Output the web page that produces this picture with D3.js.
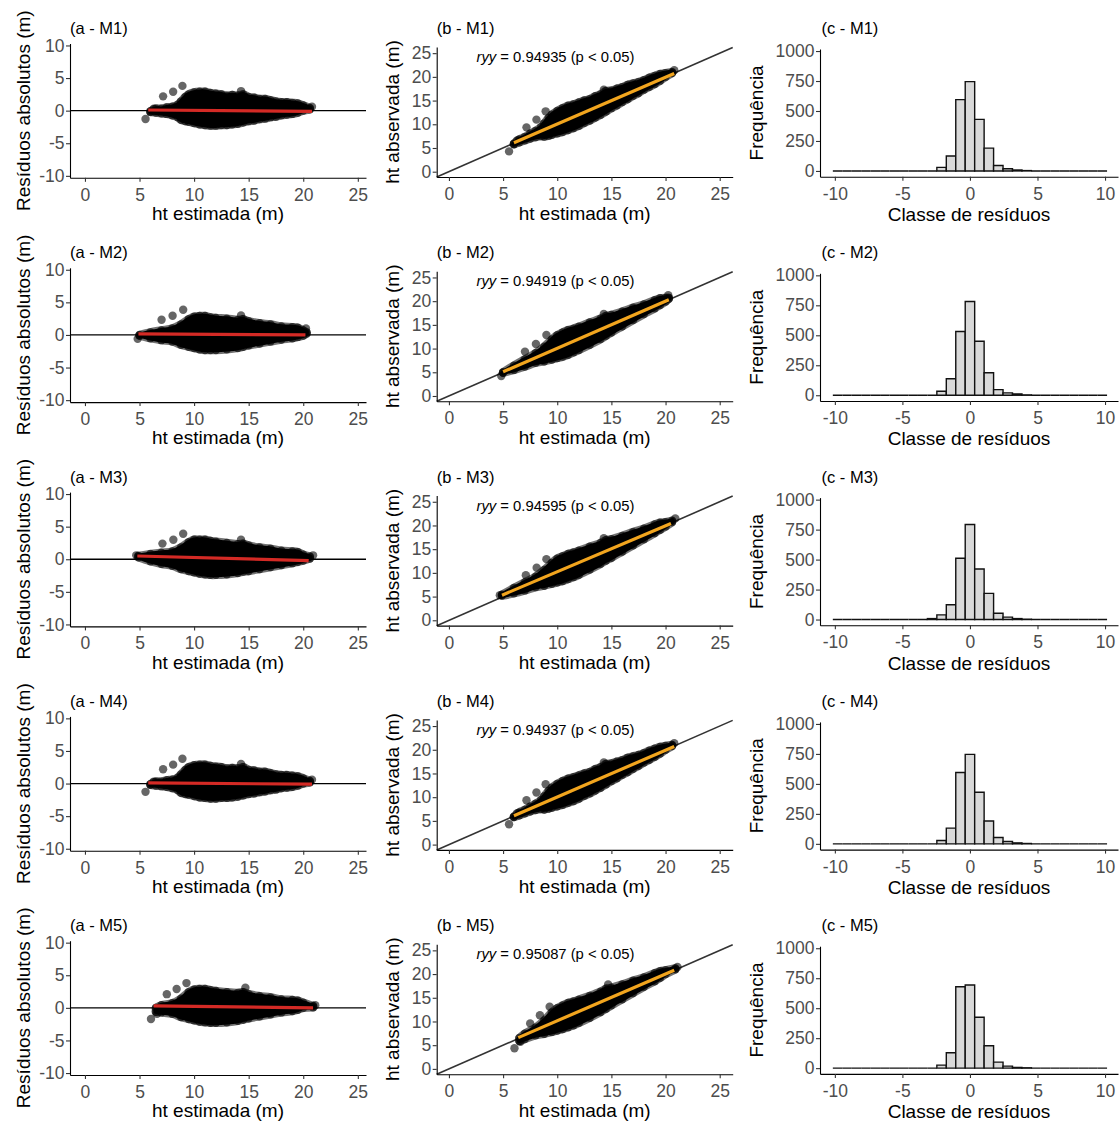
<!DOCTYPE html>
<html><head><meta charset="utf-8">
<script src="https://cdn.jsdelivr.net/npm/d3@7"></script>
<style>body{margin:0;background:#fff}svg{display:block}text{font-family:"Liberation Sans",Arial,sans-serif}</style>
</head><body><svg id="c" width="1120" height="1122"></svg>
<script>
// ---------------- DATA ----------------
const models = ["M1", "M2", "M3", "M4", "M5"];
const ryyValues = ["0.94935", "0.94919", "0.94595", "0.94937", "0.95087"];

const resXTicks = [0, 5, 10, 15, 20, 25];
const resYTicks = [-10, -5, 0, 5, 10];
const obsXTicks = [0, 5, 10, 15, 20, 25];
const obsYTicks = [0, 5, 10, 15, 20, 25];
const histXTicks = [-10, -5, 0, 5, 10];
const histYTicks = [0, 250, 500, 750, 1000];

// residual cloud envelopes (centres of outermost points): estimated ht, upper residual, lower residual
const cloudHtM1 = [6.0, 6.5, 7, 7.5, 8, 8.5, 8.8, 9.2, 9.5, 10, 10.5, 11, 11.5, 12, 12.5, 13, 13.5, 14, 14.5, 15, 15.5, 16, 16.5, 17, 17.5, 18, 18.5, 19, 19.5, 20, 20.6];
const resUpperM1 = [-0.1, 0.3, 0.3, 0.5, 0.6, 0.9, 1.4, 2.1, 2.5, 2.8, 2.9, 2.9, 2.7, 2.6, 2.5, 2.3, 2.4, 2.3, 2.5, 2.1, 2.0, 1.8, 1.8, 1.6, 1.4, 1.3, 1.3, 1.2, 1.1, 0.8, 0.4];
const resLowerM1 = [-0.2, -0.3, -0.4, -0.5, -0.7, -1.0, -1.4, -1.6, -1.7, -1.9, -2.1, -2.2, -2.3, -2.3, -2.2, -2.2, -2.1, -2.0, -1.8, -1.6, -1.5, -1.3, -1.2, -1.0, -0.9, -0.7, -0.6, -0.5, -0.3, 0.0, 0.2];
const outliersM1 = [[5.55, -1.27], [7.16, 2.19], [8.08, 2.9], [8.93, 3.8], [14.3, 3.0], [20.8, 0.6], [6.3, 0.3]];

const cloudHtM2 = [5.0, 6, 7, 8, 8.8, 9.5, 10, 10.5, 11, 11.5, 12, 13, 14, 14.5, 15, 16, 17, 18, 19, 19.5, 20, 20.3];
const resUpperM2 = [0.0, 0.4, 0.7, 1.0, 1.6, 2.4, 2.8, 2.9, 2.9, 2.7, 2.6, 2.5, 2.3, 2.4, 2.1, 1.8, 1.6, 1.3, 1.2, 1.1, 0.7, 0.4];
const resLowerM2 = [-0.1, -0.5, -0.8, -1.0, -1.5, -1.8, -2.0, -2.2, -2.3, -2.3, -2.3, -2.2, -2.0, -1.8, -1.6, -1.3, -1.0, -0.7, -0.5, -0.3, -0.1, 0.2];
const outliersM2 = [[4.83, -0.6], [7.02, 2.34], [8.03, 2.95], [9.0, 3.87], [14.3, 3.0], [20.25, 1.0]];

const cloudHtM3 = [4.9, 6, 7, 8, 8.8, 9.5, 10, 10.5, 11, 11.5, 12, 13, 14, 14.5, 15, 16, 17, 18, 19, 19.5, 20, 20.6];
const resUpperM3 = [0.5, 0.8, 1.0, 1.2, 1.8, 2.6, 3.0, 3.0, 3.0, 2.8, 2.7, 2.5, 2.3, 2.4, 2.1, 1.8, 1.6, 1.3, 1.2, 1.1, 0.7, 0.4];
const resLowerM3 = [0.3, -0.3, -0.7, -1.0, -1.5, -1.8, -2.0, -2.2, -2.3, -2.4, -2.4, -2.3, -2.1, -1.9, -1.8, -1.5, -1.2, -0.9, -0.6, -0.4, -0.2, 0.1];
const outliersM3 = [[4.7, 0.6], [7.1, 2.4], [8.1, 3.0], [9.0, 3.9], [14.3, 3.0], [20.9, 0.6]];

const cloudHtM4 = [6.0, 6.5, 7, 7.5, 8, 8.5, 8.8, 9.2, 9.5, 10, 10.5, 11, 11.5, 12, 12.5, 13, 13.5, 14, 14.5, 15, 15.5, 16, 16.5, 17, 17.5, 18, 18.5, 19, 19.5, 20, 20.6];
const resUpperM4 = [-0.1, 0.3, 0.3, 0.5, 0.6, 0.9, 1.4, 2.1, 2.5, 2.8, 2.9, 2.9, 2.7, 2.6, 2.5, 2.3, 2.4, 2.3, 2.5, 2.1, 2.0, 1.8, 1.8, 1.6, 1.4, 1.3, 1.3, 1.2, 1.1, 0.8, 0.4];
const resLowerM4 = [-0.2, -0.3, -0.4, -0.5, -0.7, -1.0, -1.4, -1.6, -1.7, -1.9, -2.1, -2.2, -2.3, -2.3, -2.2, -2.2, -2.1, -2.0, -1.8, -1.6, -1.5, -1.3, -1.2, -1.0, -0.9, -0.7, -0.6, -0.5, -0.3, 0.0, 0.2];
const outliersM4 = [[5.55, -1.27], [7.16, 2.19], [8.08, 2.9], [8.93, 3.8], [14.3, 3.0], [20.8, 0.6], [6.3, 0.3]];

const cloudHtM5 = [6.5, 7, 8, 8.8, 9.5, 10, 10.5, 11, 11.5, 12, 13, 14, 14.5, 15, 16, 17, 18, 19, 19.5, 20, 20.9];
const resUpperM5 = [0.0, 0.4, 0.7, 1.4, 2.4, 2.8, 2.9, 2.9, 2.7, 2.6, 2.4, 2.3, 2.4, 2.1, 1.8, 1.6, 1.3, 1.2, 1.1, 0.8, 0.3];
const resLowerM5 = [-0.6, -0.7, -0.9, -1.4, -1.7, -1.9, -2.1, -2.2, -2.3, -2.3, -2.2, -2.0, -1.8, -1.6, -1.3, -1.0, -0.7, -0.5, -0.3, 0.0, 0.1];
const outliersM5 = [[6.05, -1.7], [7.5, 2.1], [8.4, 2.9], [9.3, 3.8], [14.7, 3.1], [21.1, 0.4], [6.6, -0.9]];

// fitted lines: [x0, y0, x1, y1]
const redFits = [[5.8, 0.1, 20.8, -0.1], [4.9, 0.15, 20.2, 0.0], [4.8, 0.5, 20.5, -0.2], [5.8, 0.1, 20.8, -0.1], [6.3, 0.3, 20.9, 0.0]];
const orangeFits = [[6.0, 6.1, 20.8, 20.7], [5.0, 5.1, 20.3, 20.3], [4.9, 5.3, 20.5, 20.4], [6.0, 6.1, 20.8, 20.7], [6.4, 6.6, 20.8, 20.8]];

// histograms: 29 bins of width 0.7 centred on 0 (from -10.15 to 10.15)
const histBinStart = -10.15, histBinWidth = 0.7;
const histM1 = [0,0,0,0,0,0,0,0,0,0, 0,30,125,595,745,430,190,45,18,8, 3,0,0,0,0,0,0,0,0];
const histM2 = [0,0,0,0,0,0,0,0,0,0, 0,33,137,531,782,450,187,47,20,11, 3,0,0,0,0,0,0,0,0];
const histM3 = [0,0,0,0,0,0,0,0,0,0, 8,39,123,511,793,422,218,53,20,8, 3,0,0,0,0,0,0,0,0];
const histM4 = [0,0,0,0,0,0,0,0,0,0, 0,28,131,595,746,430,190,53,20,8, 3,0,0,0,0,0,0,0,0];
const histM5 = [0,0,0,0,0,0,0,0,0,0, 0,25,128,679,693,425,187,50,17,6, 3,0,0,0,0,0,0,0,0];

const cloudHt = [cloudHtM1, cloudHtM2, cloudHtM3, cloudHtM4, cloudHtM5];
const resUpper = [resUpperM1, resUpperM2, resUpperM3, resUpperM4, resUpperM5];
const resLower = [resLowerM1, resLowerM2, resLowerM3, resLowerM4, resLowerM5];
const outliers = [outliersM1, outliersM2, outliersM3, outliersM4, outliersM5];
const hists = [histM1, histM2, histM3, histM4, histM5];

// ---------------- DRAW ----------------
const svg = d3.select("#c");
const rowStep = 224.3;
const PR = 4.2; // point radius
const tickFont = "17.5px", titleFont = "19px", panelFont = "16.5px";
const fmt = d => String(d);

function styleAxis(g) {
  g.select(".domain").attr("stroke", "#000").attr("stroke-width", 1.1);
  g.selectAll(".tick line").attr("stroke", "#333").attr("stroke-width", 1.1);
  g.selectAll(".tick text").attr("fill", "#4d4d4d").style("font-size", tickFont)
    .style("font-family", '"Liberation Sans", Arial, sans-serif');
}
function axes(g, x, y, xt, yt) {
  const ax = g.append("g").attr("transform", `translate(0,${y.range()[0]})`)
    .call(d3.axisBottom(x).tickValues(xt).tickFormat(fmt).tickSize(4).tickSizeOuter(0).tickPadding(6.5));
  styleAxis(ax);
  const ay = g.append("g").attr("transform", `translate(${x.range()[0]},0)`)
    .call(d3.axisLeft(y).tickValues(yt).tickFormat(fmt).tickSize(4).tickSizeOuter(0).tickPadding(1.5));
  styleAxis(ay);
}
function cloud(g, x, y, hts, lo, up, pts) {
  const area = d3.area().x((d, i) => x(hts[i])).y0((d, i) => y(lo[i])).y1((d, i) => y(up[i])).curve(d3.curveCatmullRom);
  g.append("path").attr("d", area(hts)).attr("fill", "#000").attr("fill-opacity", 0.55)
    .attr("stroke", "#000").attr("stroke-opacity", 0.55).attr("stroke-width", PR * 2).attr("stroke-linejoin", "round");
  g.append("path").attr("d", area(hts)).attr("fill", "#000")
    .attr("stroke", "#000").attr("stroke-width", PR * 1.1).attr("stroke-linejoin", "round");
  g.selectAll(null).data(hts).enter().append("circle")
    .attr("cx", (d, i) => x(hts[i])).attr("cy", (d, i) => y(up[i])).attr("r", PR).attr("fill", "rgba(0,0,0,0.6)");
  g.selectAll(null).data(hts).enter().append("circle")
    .attr("cx", (d, i) => x(hts[i])).attr("cy", (d, i) => y(lo[i])).attr("r", PR).attr("fill", "rgba(0,0,0,0.6)");
  g.selectAll(null).data(pts).enter().append("circle")
    .attr("cx", d => x(d[0])).attr("cy", d => y(d[1])).attr("r", PR).attr("fill", "rgba(0,0,0,0.6)");
}

models.forEach((m, i) => {
  const off = i * rowStep;
  const row = svg.append("g").attr("transform", `translate(0,${off})`);

  // ---- panel a: residuals ----
  const xa = d3.scaleLinear().domain([-1.37, 25.75]).range([70, 366]);
  const ya = d3.scaleLinear().domain([-10.3, 10.3]).range([177.8, 43.5]);
  const ga = row.append("g");
  ga.append("line").attr("x1", xa.range()[0]).attr("x2", xa.range()[1]).attr("y1", ya(0)).attr("y2", ya(0))
    .attr("stroke", "#000").attr("stroke-width", 1.3);
  cloud(ga, xa, ya, cloudHt[i], resLower[i], resUpper[i], outliers[i]);
  const rf = redFits[i];
  ga.append("line").attr("x1", xa(rf[0])).attr("y1", ya(rf[1])).attr("x2", xa(rf[2])).attr("y2", ya(rf[3]))
    .attr("stroke", "#d42a25").attr("stroke-width", 3.2);
  axes(ga, xa, ya, resXTicks, resYTicks);
  ga.append("text").attr("x", 70).attr("y", 34).style("font-size", panelFont).text(`(a - ${m})`);
  ga.append("text").attr("x", (70 + 366) / 2).attr("y", 220).attr("text-anchor", "middle").style("font-size", titleFont).text("ht estimada (m)");
  ga.append("text").attr("transform", `translate(30,${(43.5 + 177.8) / 2}) rotate(-90)`).attr("text-anchor", "middle").style("font-size", titleFont).text("Resíduos absolutos (m)");

  // ---- panel b: observed vs estimated ----
  const xb = d3.scaleLinear().domain([-1.13, 26.2]).range([436.7, 732.7]);
  const yb = d3.scaleLinear().domain([-1.12, 26.3]).range([177, 47]);
  const gb = row.append("g");
  const hts = cloudHt[i];
  const obsUp = hts.map((h, k) => h + resUpper[i][k]);
  const obsLo = hts.map((h, k) => h + resLower[i][k]);
  const obsPts = outliers[i].map(d => [d[0], d[0] + d[1]]);
  const dd = xb.domain();
  gb.append("line").attr("x1", xb(dd[0])).attr("y1", yb(dd[0])).attr("x2", xb(dd[1])).attr("y2", yb(dd[1]))
    .attr("stroke", "#333").attr("stroke-width", 1.6);
  cloud(gb, xb, yb, hts, obsLo, obsUp, obsPts);
  const of = orangeFits[i];
  gb.append("line").attr("x1", xb(of[0])).attr("y1", yb(of[1])).attr("x2", xb(of[2])).attr("y2", yb(of[3]))
    .attr("stroke", "#f2a51e").attr("stroke-width", 3.2);
  axes(gb, xb, yb, obsXTicks, obsYTicks);
  gb.append("text").attr("x", 436.7).attr("y", 34).style("font-size", panelFont).text(`(b - ${m})`);
  gb.append("text").attr("x", (436.7 + 732.7) / 2).attr("y", 220).attr("text-anchor", "middle").style("font-size", titleFont).text("ht estimada (m)");
  gb.append("text").attr("transform", `translate(399,${(47 + 177) / 2}) rotate(-90)`).attr("text-anchor", "middle").style("font-size", titleFont).text("ht abservada (m)");
  const rt = gb.append("text").attr("x", 476.5).attr("y", 62).style("font-size", "14.8px");
  rt.append("tspan").style("font-style", "italic").text("ryy");
  rt.append("tspan").text(` = ${ryyValues[i]} (p < 0.05)`);

  // ---- panel c: histogram ----
  const xc = d3.scaleLinear().domain([-11.1, 10.96]).range([820, 1118]);
  const yc = d3.scaleLinear().domain([-48, 1017]).range([176.7, 49]);
  const gc = row.append("g");
  gc.selectAll(null).data(hists[i]).enter().append("path")
    .attr("d", (c, k) => {
      const x0 = xc(histBinStart + k * histBinWidth), x1 = xc(histBinStart + (k + 1) * histBinWidth);
      return `M${x0},${yc(0)}V${yc(c)}H${x1}V${yc(0)}Z`;
    })
    .attr("fill", "#d9d9d9").attr("stroke", "#111").attr("stroke-width", 1.4);
  axes(gc, xc, yc, histXTicks, histYTicks);
  gc.append("text").attr("x", 821.5).attr("y", 34).style("font-size", panelFont).text(`(c - ${m})`);
  gc.append("text").attr("x", (820 + 1118) / 2).attr("y", 221).attr("text-anchor", "middle").style("font-size", titleFont).text("Classe de resíduos");
  gc.append("text").attr("transform", `translate(763,${(49 + 176.7) / 2}) rotate(-90)`).attr("text-anchor", "middle").style("font-size", titleFont).text("Frequência");
});
</script></body></html>
